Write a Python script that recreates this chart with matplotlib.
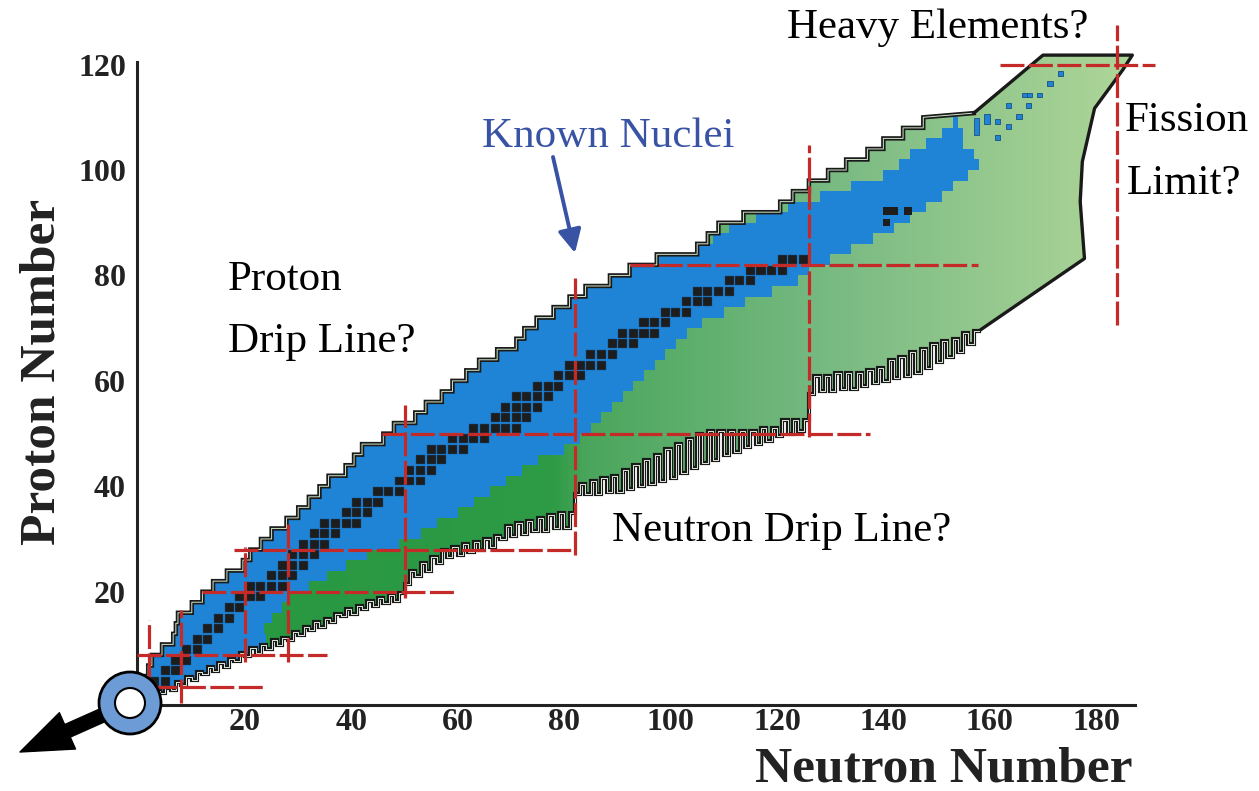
import numpy as np
import matplotlib.pyplot as plt
from matplotlib.patches import Polygon, Circle
from matplotlib.colors import LinearSegmentedColormap

plt.rcParams['font.family'] = ['Liberation Serif', 'DejaVu Serif']

W, H = 1259, 791

# chart rows, two protons high (lower edge Z)
row_Z = np.arange(0, 110, 2)
# proton drip line: left edge (N) of every row
p_drip = [1, 1.5, 1.8, 2.5, 4.4, 6.5, 7, 7.4, 10, 12, 14, 16.6, 19.6, 21, 23, 25,
          27.8, 30, 32, 34, 35.7, 38.9, 40.5, 42, 46, 48, 52, 54, 57, 59, 61.6, 64,
          67.4, 71, 72.5, 74.8, 78, 81, 84, 88.6, 92.3, 97.4, 105, 107, 109, 113.7,
          120.6, 123, 126, 129.6, 133, 137, 140, 143.7, 147.5]
# known nuclei (blue): left / right edge of every row
known_lo = p_drip[:43] + [108, 111, 116, 122, 128, 134, 140, 143, 145, 148, 151, 153]
known_hi = [10, 14, 18, 20, 24, 24, 23.5, 25, 27, 28.5, 32, 35.5, 39, 43, 49, 53,
            56, 60, 63, 66, 69, 72, 75, 80, 83, 85, 87, 89, 91, 93, 95, 97, 99, 101,
            103, 106, 110, 114, 119, 124, 126, 130, 134, 138, 142, 145, 148, 151,
            153, 156, 158, 157, 155, 155, 154]

# neutron drip line, column by column (2 neutrons wide): tooth bottom / notch top
nd_N = np.arange(2, 158, 2)
nd_low = [0.3, 0.8, 1.3, 2.3, 3.3, 4.3, 5, 5.8, 6.8, 7.8, 8.3, 9.2, 9.8, 10.8, 11.8,
          12.8, 13.3, 14.3, 15.3, 15.8, 16.8, 17.3, 17.8, 18.3,
          21.5, 23, 24, 25.5, 26.5, 27, 27.5, 28, 28.5, 30, 30.5, 31, 31.5, 31.5, 32, 32,
          38.5, 38.5, 38.5, 39, 39, 39.5, 40, 40.5, 41, 41.5, 42.5, 43.5, 44.5, 45, 46, 46.5,
          47.5, 48, 48.5, 49.5, 50, 50.5,
          57.5, 58, 58, 58.5, 58.5, 59, 59.5, 60, 60.5, 61, 61.5, 62.5, 63.5, 64.5, 65.5, 67]
nd_high = [1.2, 1.8, 2.8, 3.8, 4.8, 5.8, 6.5, 7.3, 8.3, 9.3, 9.8, 10.8, 11.3, 12.3, 13.3,
           14.3, 14.8, 15.8, 16.8, 17.3, 18.3, 18.8, 19.3, 19.8,
           24, 25.5, 26.5, 28, 28.5, 29, 29.5, 30, 30.5, 32.5, 33, 33.5, 34, 34.5, 35, 35,
           40.5, 41, 41.5, 42, 43, 44, 45, 46, 47, 48, 49, 50, 50.5, 50.5, 50.5, 50.5,
           50.5, 51, 51, 52.5, 52.5, 52.5,
           61, 61, 61.5, 61.5, 61.5, 62, 62.5, 64, 64.5, 65.5, 66, 67, 67.5, 68, 69, 69.5]

# superheavy region and fission limit outline
sh_N = [157, 170, 186.8, 185, 179.7, 177.4, 177, 177.8, 158]
sh_Z = [110.8, 121.8, 121.8, 119, 111.7, 101.6, 94, 83.2, 69.5]

# stable nuclei: N range per row
stable_Z = np.arange(0, 84, 2)
stable_lo = [2, 2, 4, 6, 8, 10, 12, 14, 16, 18, 20, 24, 26, 28, 30, 32, 34, 38, 40, 44, 48,
             50, 52, 54, 58, 62, 66, 68, 70, 74, 78, 80, 84, 88, 90, 94, 98, 102, 104, 110,
             114, 120]
stable_hi = [2, 4, 6, 8, 10, 12, 14, 16, 18, 22, 26, 28, 30, 32, 34, 36, 40, 42, 44, 48, 52,
             54, 56, 60, 64, 70, 72, 74, 76, 78, 82, 86, 88, 92, 96, 98, 102, 106, 110, 114,
             120, 124]
extra_N = [139.9, 141.3, 143.9, 139.9]
extra_Z = [91.5, 91.5, 91.5, 89.4]

# known superheavy nuclei
shk_N = [157, 159, 161, 161, 163, 163, 165, 166.8, 166, 167, 168.8, 170.8, 172.8]
shk_Z = [106.6, 108.7, 108.7, 105.7, 111.7, 107.8, 109.7, 111.7, 113.8, 113.8, 113.8, 115.9, 117.8]
shk_h = [3.2, 1.9, 1, 1, 1, 0.9, 1, 1, 0.9, 0.9, 0.9, 0.9, 0.9]

# magic numbers: (position, from, to)
magic_N = [(2, 3.8, 14.6), (8, -1.1, 16.5), (20, 6.6, 28.5), (28, 6.6, 33.6),
           (50, 18.8, 55.4), (82, 27, 79.5), (126, 49.3, 104.7), (184, 70.6, 127.5)]
magic_Z = [(2, 2.7, 23.4), (8, -0.3, 35.4), (20, 12, 59.5), (28, 18, 82),
           (50, 45.8, 137.5), (82, 92.4, 157.8), (120, 162, 191)]

BLUE = '#2084d6'
RED = '#c42a28'

fig = plt.figure(figsize=(W / 100, H / 100), dpi=100)
ax = fig.add_axes([137 / W, 1 - 705 / H, (1135 - 137) / W, (705 - 11.9) / H])
ax.set_xlim(-0.3, 187.3)
ax.set_ylim(-1.5, 130)

# whole predicted region
verts = []
for z, n in zip(row_Z, p_drip):
    verts += [(n, z), (n, z + 2)]
verts += list(zip(sh_N, sh_Z))
for n, lo, hi in reversed(list(zip(nd_N, nd_low, nd_high))):
    verts += [(n + 2, hi), (n + 1, hi), (n + 1, lo), (n, lo)]
region = Polygon(verts, closed=True, facecolor='none', edgecolor='none')
ax.add_patch(region)

cmap = LinearSegmentedColormap.from_list('terra', [
    (0, '#26973f'), (78 / 190, '#2e9b46'), (84 / 190, '#4aa65c'),
    (130 / 190, '#78ba82'), (1, '#b2d79a')])
grad = np.linspace(0, 1, 400)[None, :]
im = ax.imshow(grad, extent=[0, 190, -2, 125], origin='lower', aspect='auto',
               cmap=cmap, interpolation='bilinear', zorder=1)
im.set_clip_path(region)

# known nuclei
bars = ax.barh(row_Z, np.array(known_hi) - np.array(known_lo), left=known_lo, height=2,
               align='edge', color=BLUE, linewidth=0, zorder=2)
for b in bars:
    b.set_clip_path(region)

# stable nuclei
cells_N, cells_Z = [], []
for z, lo, hi in zip(stable_Z, stable_lo, stable_hi):
    for n in range(lo, hi + 1, 2):
        cells_N.append(n)
        cells_Z.append(z)
ax.bar(np.array(cells_N) + 0.15, 1.7, bottom=np.array(cells_Z) + 0.15, width=1.7,
       align='edge', color='#1d1d1d', edgecolor='#15508a', linewidth=0.3, zorder=3)
ax.bar(extra_N, 1.4, bottom=extra_Z, width=1.4, align='edge', color='#1d1d1d', zorder=3)
ax.bar(shk_N, shk_h, bottom=shk_Z, width=1.0, align='edge', color=BLUE,
       edgecolor='#1a4f80', linewidth=0.6, zorder=3)

# proton drip line (double outline)
pd = [(n, z) for z, n in zip(row_Z, p_drip) for z in (z, z + 2)]
pd_x = [p[0] for p in pd] + [sh_N[0]]
pd_y = [p[1] for p in pd] + [sh_Z[0]]
ax.plot(pd_x, pd_y, color='#1a1a1a', lw=3.2, solid_joinstyle='miter', zorder=4)
ax.plot(pd_x, pd_y, color='#cfe5c8', lw=0.7, zorder=4)

# superheavy / fission outline
ax.plot(sh_N, sh_Z, color='#1a1a1a', lw=2.4, zorder=4)

# neutron drip line comb
nx, ny = [], []
for n, lo, hi in zip(nd_N, nd_low, nd_high):
    nx += [n, n + 1, n + 1, n + 2]
    ny += [lo, lo, hi, hi]
ax.plot(nx, ny, color='#1a1a1a', lw=3.0, solid_joinstyle='miter', zorder=4)
ax.plot(nx, ny, color='#dfe9dc', lw=0.7, zorder=4)

# magic numbers
dash = (0, (7.5, 1.4))
for n, z0, z1 in magic_N:
    ax.plot([n, n], [z0, z1], color=RED, lw=2.3, linestyle=dash, zorder=5, clip_on=False)
for z, n0, n1 in magic_Z:
    ax.plot([n0, n1], [z, z], color=RED, lw=2.3, linestyle=dash, zorder=5, clip_on=False)

# axes
for s in ['top', 'right']:
    ax.spines[s].set_visible(False)
for s in ['left', 'bottom']:
    ax.spines[s].set_linewidth(2.2)
    ax.spines[s].set_color('#222222')
ax.spines['left'].set_bounds(-1.5, 120.5)
ax.set_xticks(range(20, 181, 20))
ax.set_yticks(range(0, 121, 20))
ax.tick_params(length=0, labelsize=23, colors='#222222')
ax.tick_params(axis='x', pad=2)
ax.tick_params(axis='y', pad=8)
for lab in ax.get_xticklabels() + ax.get_yticklabels():
    lab.set_fontweight('bold')

ax.set_xlabel('Neutron Number', fontsize=37, fontweight='bold', color='#222222', loc='right')
ax.xaxis.set_label_coords(0.997, -0.06)
ax.set_ylabel('Proton Number', fontsize=37, fontweight='bold', color='#222222')
ax.yaxis.set_label_coords(-0.072, 0.4805)

# annotations (figure pixels)
def fp(x, y):
    return x / W, 1 - y / H

txt = dict(fontsize=31, va='baseline', ha='left')
fig.text(*fp(228, 290), 'Proton', **txt)
fig.text(*fp(228, 352), 'Drip Line?', **txt)
fig.text(*fp(482, 147), 'Known Nuclei', color='#3953a4', **txt)
fig.text(*fp(612, 541), 'Neutron Drip Line?', **txt)
fig.text(*fp(1125, 131), 'Fission', **txt)
fig.text(*fp(1127, 194), 'Limit?', **txt)
fig.text(*fp(787, 38), 'Heavy Elements?', **txt)

ax.annotate('', xy=(575, H - 253), xycoords='figure pixels',
            xytext=(553, H - 157), textcoords='figure pixels',
            arrowprops=dict(arrowstyle='-|>', lw=2.8, color='#3953a4', mutation_scale=35,
                            shrinkA=0, shrinkB=0))

# origin marker with arrow
ring = Circle((130 / 100, (H - 703) / 100), 0.31, transform=fig.dpi_scale_trans,
              facecolor='#6c9bd6', edgecolor='black', lw=2, zorder=6)
hole = Circle((130 / 100, (H - 703) / 100), 0.15, transform=fig.dpi_scale_trans,
              facecolor='white', edgecolor='black', lw=1.5, zorder=6)
fig.add_artist(ring)
fig.add_artist(hole)
arr = ax.annotate('', xy=(20, H - 752), xycoords='figure pixels',
                  xytext=(130, H - 703), textcoords='figure pixels',
                  arrowprops=dict(arrowstyle='simple,head_length=1.7,head_width=1.3,tail_width=0.45',
                                  mutation_scale=22, color='black', shrinkA=0, shrinkB=0))
arr.set_zorder(7)

fig.savefig('out.png', dpi=100)
